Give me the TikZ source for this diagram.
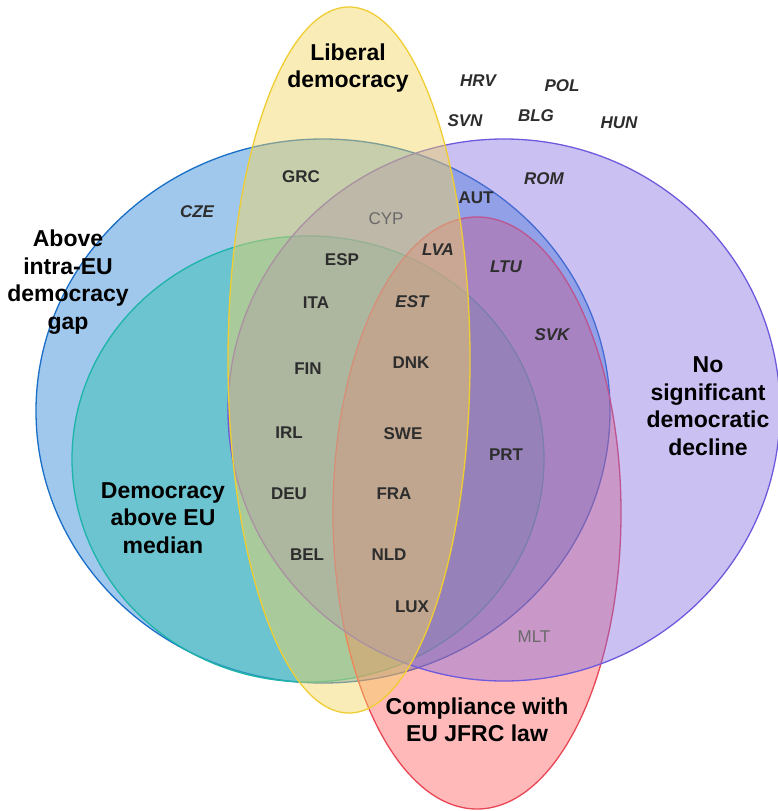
\documentclass[tikz,border=0pt]{standalone}
\usepackage{fontspec}
\setmainfont{Liberation Sans}
\usetikzlibrary{positioning}

\definecolor{gapfill}{RGB}{65,145,217}
\definecolor{gapline}{RGB}{25,110,200}
\definecolor{medfill}{RGB}{56,192,178}
\definecolor{medline}{RGB}{30,180,170}
\definecolor{lawfill}{RGB}{255,80,80}
\definecolor{lawline}{RGB}{232,70,85}
\definecolor{stayfill}{RGB}{129,105,224}
\definecolor{stayline}{RGB}{110,90,220}
\definecolor{libfill}{RGB}{244,213,93}
\definecolor{libline}{RGB}{240,205,50}
\definecolor{codegrey}{RGB}{45,45,45}
\definecolor{weakgrey}{RGB}{105,105,105}

\begin{document}
\begin{tikzpicture}[x=1pt, y=-1pt,
set/.style={line width=1.3pt},
code/.style={font=\fontsize{17}{20}\selectfont\bfseries, text=codegrey, inner sep=0pt},
lean/.style={code, font=\fontsize{17}{20}\selectfont\bfseries\itshape},
weak/.style={font=\fontsize{17}{20}\selectfont, text=weakgrey, inner sep=0pt},
title/.style={font=\fontsize{23}{27.5}\selectfont\bfseries, align=center, inner sep=0pt}
]
\useasboundingbox (0,0) rectangle (778,811);

% Sets, back to front
\filldraw[set, draw=gapline, fill=gapfill, fill opacity=0.5] (323,411) ellipse [x radius=287pt, y radius=272pt];
\filldraw[set, draw=medline, fill=medfill, fill opacity=0.5] (308,459) ellipse [x radius=236pt, y radius=223pt];
\filldraw[set, draw=lawline, fill=lawfill, fill opacity=0.4] (477,513) ellipse [x radius=144pt, y radius=296pt];
\filldraw[set, draw=stayline, fill=stayfill, fill opacity=0.42] (504,410) ellipse [x radius=276pt, y radius=271pt];
\filldraw[set, draw=libline, fill=libfill, fill opacity=0.45] (349,360) ellipse [x radius=121pt, y radius=353pt];

% Set labels
\node[title] (liberal) at (348,68) {Liberal\\democracy};
\node[title] (gap) at (68,282) {Above\\intra-EU\\democracy\\gap};
\node[title] (median) at (163,518) {Democracy\\above EU\\median};
\node[title] (nodecline) at (708,406) {No\\significant\\democratic\\decline};
\node[title] (jfrc) at (477,720) {Compliance with\\EU JFRC law};

% Outside every set
\node[lean] (hrv) at (478,81) {HRV};
\node[lean] (pol) at (562,86) {POL};
\node[lean] (svn) at (465,121) {SVN};
\node[lean] (blg) at (536,116) {BLG};
\node[lean] (hun) at (619,123) {HUN};

% Upper part
\node[code] (grc) at (301,177) {GRC};
\node[lean] (cze) at (197,212) {CZE};
\node[lean] (rom) at (544,179) {ROM};
\node[code] (aut) at (476,198) {AUT};
\node[weak] (cyp) at (386,219) {CYP};
\node[lean] (lva) at (438,250) {LVA};
\node[lean] (ltu) at (506,267) {LTU};
\node[code] (esp) at (342,260) {ESP};
\node[code] (ita) at (316,303) {ITA};
\node[lean] (est) at (412,302) {EST};
\node[lean] (svk) at (552,335) {SVK};

% Core
\node[code] (fin) at (308,369) {FIN};
\node[code] (dnk) at (411,363) {DNK};
\node[code] (irl) at (289,433) {IRL};
\node[code] (swe) at (403,434) {SWE};
\node[code] (prt) at (506,455) {PRT};
\node[code] (deu) at (289,494) {DEU};
\node[code] (fra) at (394,494) {FRA};
\node[code] (bel) at (307,555) {BEL};
\node[code] (nld) at (389,555) {NLD};
\node[code] (lux) at (412,607) {LUX};
\node[weak] (mlt) at (534,637) {MLT};

\end{tikzpicture}
\end{document}
